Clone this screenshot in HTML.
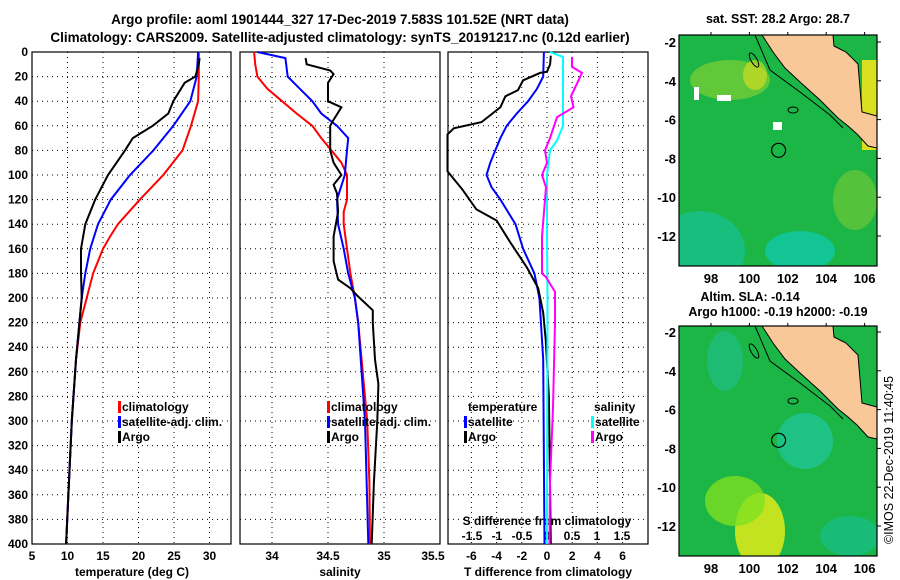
<!DOCTYPE html>
<html><head><meta charset="utf-8"><style>
body{margin:0;background:#fff}
svg{display:block;font-family:"Liberation Sans",sans-serif;font-weight:bold}
</style></head><body>
<svg id="c" width="900" height="580" viewBox="0 0 900 580">
<text x="340" y="24" font-size="13.5" text-anchor="middle">Argo profile: aoml 1901444_327 17-Dec-2019 7.583S 101.52E (NRT data)</text>
<text x="340" y="42" font-size="13.5" text-anchor="middle">Climatology: CARS2009. Satellite-adjusted climatology: synTS_20191217.nc (0.12d earlier)</text>
<g id="g"></g>
</svg>
<script>
const depthTicks=[0,20,40,60,80,100,120,140,160,180,200,220,240,260,280,300,320,340,360,380,400];
const tempTicks=[5,10,15,20,25,30];
const salTicks=[34,34.5,35,35.5];
const dTTicks=[-6,-4,-2,0,2,4,6];
const dSTicks=[-1.5,-1,-0.5,0,0.5,1,1.5];
const tempClimD=[0,20,40,60,80,100,120,140,150,160,180,200,220,250,300,350,400];
const tempClim=[28.5,28.5,28.4,27.4,26.2,23.5,20.2,17.1,16,15,13.6,12.7,11.8,11.2,10.6,10.2,9.8];
const tempSatD=[0,20,40,60,80,100,120,140,160,180,200,250,300,400];
const tempSat=[28.4,28.2,27.3,24.9,22.1,18.8,16.1,14.3,13.2,12.5,12,11.2,10.6,9.8];
const tempArgoD=[5,10,20,25,40,50,60,70,80,100,120,140,160,180,200,250,300,400];
const tempArgo=[28.6,28.5,28,26.5,24.9,24.2,22,19.2,18.1,15.7,13.9,12.5,11.9,11.9,12,11.2,10.6,9.8];
const salClimD=[0,10,20,30,40,50,60,70,80,90,100,120,130,140,160,180,200,220,250,300,350,400];
const salClim=[33.84,33.85,33.87,33.96,34.09,34.22,34.36,34.44,34.53,34.62,34.67,34.67,34.64,34.64,34.67,34.7,34.74,34.77,34.8,34.85,34.87,34.875];
const salSatD=[0,5,20,30,40,50,60,70,80,100,120,140,160,180,200,220,300,400];
const salSat=[33.87,34.12,34.14,34.25,34.36,34.44,34.58,34.68,34.67,34.65,34.58,34.59,34.64,34.68,34.74,34.77,34.83,34.86];
const salArgoD=[5,10,15,18,25,40,45,55,60,80,90,100,108,115,130,150,170,185,192,198,210,220,250,270,300,350,400];
const salArgo=[34.3,34.31,34.52,34.55,34.5,34.5,34.62,34.55,34.52,34.52,34.55,34.62,34.55,34.58,34.59,34.55,34.55,34.59,34.7,34.76,34.9,34.9,34.92,34.95,34.94,34.91,34.89];
const dTSatD=[0,20,30,40,50,60,70,80,90,100,110,120,140,160,180,200,250,400];
const dTSat=[-0.25,-0.3,-0.8,-1.5,-2.4,-3.2,-3.7,-4.1,-4.5,-4.8,-4.4,-3.7,-2.5,-1.9,-1,-0.6,-0.3,-0.2];
const dTArgoD=[3,10,16,17,23,31,36,45,57,62,67,80,97,112,128,137,155,175,192,212,234,280,400];
const dTArgo=[0.3,0.25,0,-0.55,-1.9,-2.3,-3.3,-3.7,-5.2,-7.4,-7.9,-7.9,-7.9,-6.7,-5.6,-4,-2.9,-1.6,-0.7,-0.3,-0.1,0.15,0.3];
const dSSatD=[0,4,60,72,80,100,150,200,400];
const dSSat=[0.06,0.32,0.32,0.2,0.06,0,0,0.01,0];
const dSArgoD=[4,12,17,36,45,53,70,80,90,100,110,150,180,183,195,220,289,350,400];
const dSArgo=[0.5,0.5,0.7,0.48,0.53,0.2,0.06,-0.04,0,-0.1,-0.02,-0.1,-0.1,-0.02,0.16,0.16,0.12,0.06,0.05];

const NS="http://www.w3.org/2000/svg",G=document.getElementById('g');
function el(t,a,p){const e=document.createElementNS(NS,t);for(const k in a)e.setAttribute(k,a[k]);(p||G).appendChild(e);return e;}
const Y0=52,Y1=544;
const y=d=>Y0+(Y1-Y0)*d/400;
const xT=v=>32+(v-5)*7.1;
const xS=v=>272+(v-34)*112;
const xDT=v=>547+v*12.6;
const xDS=v=>547+v*50;
function panel(name,x0,x1,gridX){
  const g=el('g',{});
  
  
  depthTicks.forEach(d=>{if(d>0&&d<400){const l=el('line',{x1:x0,x2:x1,y1:y(d),y2:y(d),stroke:'#000','stroke-width':1,'stroke-dasharray':'1,4'},g);}});
  gridX.forEach(px=>{if(px>x0+2&&px<x1-2){const l=el('line',{x1:px,x2:px,y1:Y0,y2:Y1,stroke:'#000','stroke-width':1,'stroke-dasharray':'1,4'},g);}});
  const r=el('rect',{x:x0,y:Y0,width:x1-x0,height:Y1-Y0,fill:'none',stroke:'#000','stroke-width':1.2},g);
  
  return g;
}
function line(g,xs,ds,fx,col,name){
  const pts=xs.map((v,i)=>fx(v).toFixed(1)+','+y(ds[i]).toFixed(1)).join(' ');
  const p=el('polyline',{points:pts,fill:'none',stroke:col,'stroke-width':2},g);
  
  
}
function txt(s,x,yy,o,p){const t=el('text',Object.assign({x:x,y:yy,'font-size':12},o||{}),p);t.textContent=s;return t;}
function legend(g,x,yy,items){
  items.forEach((it,i)=>{
    const r=el('rect',{x:x,y:yy+i*15-10,width:3,height:12,fill:it[1]},g);
    
    const t=txt(it[0],x+4,yy+i*15,{},g);
    
  });
}
// panel 1
const p1=panel('temperature-panel',32,231,tempTicks.map(xT));
depthTicks.forEach(d=>{const t=txt(d,28,y(d)+4,{'text-anchor':'end'},p1);});
tempTicks.forEach(v=>{const t=txt(v,xT(v),560,{'text-anchor':'middle'},p1);});
{const t=txt('temperature (deg C)',132,576,{'text-anchor':'middle'},p1);}
line(p1,tempClim,tempClimD,xT,'#f00','temp-climatology-line');
line(p1,tempSat,tempSatD,xT,'#00f','temp-satellite-line');
line(p1,tempArgo,tempArgoD,xT,'#000','temp-argo-line');
legend(p1,118,411,[['climatology','#f00'],['satellite-adj. clim.','#00f'],['Argo','#000']]);
// panel 2
const p2=panel('salinity-panel',240,440,salTicks.map(xS));
salTicks.forEach(v=>{const t=txt(v,xS(v)-(v==35.5?7:0),560,{'text-anchor':'middle'},p2);});
{const t=txt('salinity',340,576,{'text-anchor':'middle'},p2);}
line(p2,salClim,salClimD,xS,'#f00','sal-climatology-line');
line(p2,salSat,salSatD,xS,'#00f','sal-satellite-line');
line(p2,salArgo,salArgoD,xS,'#000','sal-argo-line');
legend(p2,327,411,[['climatology','#f00'],['satellite-adj. clim.','#00f'],['Argo','#000']]);
// panel 3
const p3=panel('difference-panel',448,648,dTTicks.map(xDT));
dTTicks.forEach(v=>{const t=txt(v,xDT(v),560,{'text-anchor':'middle'},p3);});
dSTicks.forEach(v=>{const t=txt(v,xDS(v),540,{'text-anchor':'middle'},p3);});
{const t=txt('S difference from climatology',547,525,{'text-anchor':'middle'},p3);}
{const t=txt('T difference from climatology',548,576,{'text-anchor':'middle'},p3);}
line(p3,dTSat,dTSatD,xDT,'#00f','dT-satellite-line');
line(p3,dTArgo,dTArgoD,xDT,'#000','dT-argo-line');
line(p3,dSSat,dSSatD,xDS,'#0ff','dS-satellite-line');
line(p3,dSArgo,dSArgoD,xDS,'#f0f','dS-argo-line');
{const t=txt('temperature',468,411,{},p3);}
legend(p3,464,426,[['satellite','#00f'],['Argo','#000']]);
{const t=txt('salinity',594,411,{},p3);}
legend(p3,591,426,[['satellite','#0ff'],['Argo','#f0f']]);

// maps
const lonTicks=[98,100,102,104,106],latTicks=[-2,-4,-6,-8,-10,-12];
const mlx=v=>711+(v-98)*19.2;
function map(name,top,bot,lat2y,kind){
  const g=el('g',{});
  
  const id='cl'+top;
  const cp=el('clipPath',{id:id},g);el('rect',{x:679,y:top,width:198,height:bot-top},cp);
  const inner=el('g',{'clip-path':'url(#'+id+')'},g);
  el('rect',{x:679,y:top,width:198,height:bot-top,fill:'#1cb646'},inner);
  const o=top-35;
  if(kind==='sst'){
    el('ellipse',{cx:700,cy:bot-15,rx:45,ry:40,fill:'#18c08c',opacity:0.8},inner);
    el('ellipse',{cx:800,cy:bot-15,rx:35,ry:20,fill:'#12c8a8',opacity:0.8},inner);
    el('ellipse',{cx:730,cy:top+45,rx:40,ry:20,fill:'#9ad830',opacity:0.55},inner);
    el('ellipse',{cx:755,cy:top+40,rx:12,ry:15,fill:'#e0e020',opacity:0.6},inner);
    el('ellipse',{cx:855,cy:top+165,rx:22,ry:30,fill:'#8cd030',opacity:0.5},inner);
    el('rect',{x:862,y:top+25,width:15,height:90,fill:'#d8e020'},inner);
    el('rect',{x:694,y:top+52,width:5,height:13,fill:'#fff'},inner);
    el('rect',{x:717,y:top+60,width:14,height:6,fill:'#fff'},inner);
    el('rect',{x:773,y:top+87,width:9,height:8,fill:'#fff'},inner);
  } else {
    el('ellipse',{cx:760,cy:bot-25,rx:25,ry:38,fill:'#d6e81c',opacity:0.9},inner);
    el('ellipse',{cx:735,cy:bot-55,rx:30,ry:25,fill:'#7ee020',opacity:0.8},inner);
    el('ellipse',{cx:805,cy:top+115,rx:28,ry:28,fill:'#20c8a0',opacity:0.7},inner);
    el('ellipse',{cx:725,cy:top+35,rx:18,ry:30,fill:'#20c090',opacity:0.6},inner);
    el('ellipse',{cx:850,cy:bot-20,rx:30,ry:20,fill:'#18c098',opacity:0.6},inner);
  }
  const land=el('polygon',{points:[[762,35],[833,35],[834,46],[846,52],[858,64],[862,112],[877,116],[877,148],[868,146],[857,134],[848,126],[838,118],[820,100],[800,82],[785,68],[773,52]].map(p=>p[0]+','+(p[1]+o)).join(' '),fill:'#f8c898',stroke:'#000','stroke-width':1},inner);
  
  el('polyline',{points:[[755,35],[770,70],[800,92],[830,115],[843,128]].map(p=>p[0]+','+(p[1]+o)).join(' '),fill:'none',stroke:'#000','stroke-width':1},inner);
  el('ellipse',{cx:793,cy:110+o,rx:5,ry:3,fill:'none',stroke:'#000'},inner);
  el('ellipse',{cx:754,cy:60+o,rx:3,ry:8,fill:'none',stroke:'#000',transform:'rotate(-30 754 '+(60+o)+')'},inner);
  const c=el('circle',{cx:mlx(101.52),cy:lat2y(-7.583),r:7,fill:'none',stroke:'#000','stroke-width':1.2},g);
  
  el('rect',{x:679,y:top,width:198,height:bot-top,fill:'none',stroke:'#000','stroke-width':1.2},g);
  latTicks.forEach(v=>{const t=txt(v,676,lat2y(v)+5,{'text-anchor':'end','font-size':13},g);
    el('line',{x1:877,x2:881,y1:lat2y(v),y2:lat2y(v),stroke:'#000'},g);});
  lonTicks.forEach(v=>{const t=txt(v,mlx(v),bot+17,{'text-anchor':'middle','font-size':13},g);
    el('line',{x1:mlx(v),x2:mlx(v),y1:top-3,y2:top,stroke:'#000'},g);});
}
map('sst-map',35,266,v=>42+(-2-v)*19.4,'sst');
map('sla-map',326,556,v=>332+(-2-v)*19.4,'sla');
{const t=txt('sat. SST: 28.2 Argo: 28.7',778,23,{'text-anchor':'middle','font-size':12.5});}
{const t=txt('Altim. SLA: -0.14',750,301,{'text-anchor':'middle','font-size':12.5});}
{const t=txt('Argo h1000: -0.19 h2000: -0.19',778,316,{'text-anchor':'middle','font-size':12.5});}
{const t=txt('©IMOS 22-Dec-2019 11:40:45',0,0,{'text-anchor':'middle','font-size':12.5,'font-weight':'normal',transform:'translate(893 460) rotate(-90)'});}
</script>
</body></html>
